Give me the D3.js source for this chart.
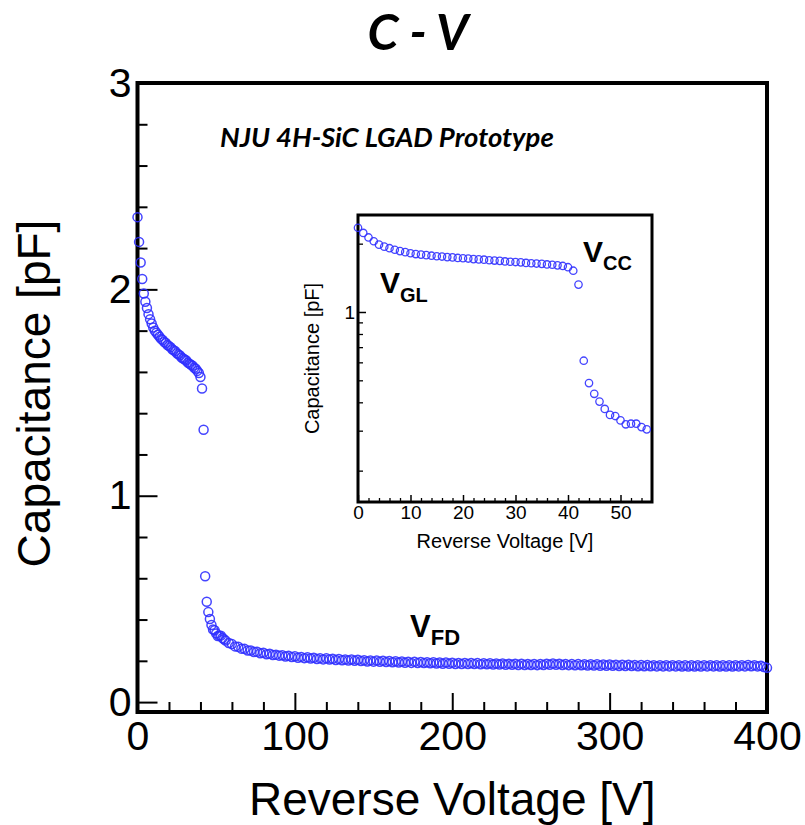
<!DOCTYPE html>
<html lang="en">
<head>
<meta charset="UTF-8">
<title>C - V</title>
<script src="https://d3js.org/d3.v7.min.js"></script>
<style>
  body { margin: 0; background: #fff; }
  svg { display: block; }
  .axis text { font-family: "Liberation Sans", Arial, sans-serif; fill: #000; }
  .axis line { stroke: #000; }
  .lbl { font-family: "Liberation Sans", Arial, sans-serif; fill: #000; }
  .sub { font-family: "Liberation Sans", Arial, sans-serif; font-weight: bold; fill: #000; }
  .cal { font-family: Lato, "Open Sans", sans-serif; font-weight: bold; font-style: italic; fill: #000; }
</style>
</head>
<body>
<div id="chart"></div>
<script>
// low voltage sweep, 1 V steps (shown in both plots)
const lowVolt = [0, 1, 2, 3, 4, 5, 6, 7, 8, 9, 10, 11, 12, 13, 14, 15, 16, 17, 18, 19,
  20, 21, 22, 23, 24, 25, 26, 27, 28, 29, 30, 31, 32, 33, 34, 35, 36, 37, 38, 39,
  40, 41, 42, 43, 44, 45, 46, 47, 48, 49, 50, 51, 52, 53, 54, 55];
const lowCap = [2.35, 2.23, 2.13, 2.05, 1.98, 1.94, 1.91, 1.88, 1.855, 1.835,
  1.815, 1.80, 1.79, 1.78, 1.77, 1.76, 1.755, 1.745, 1.74, 1.73,
  1.725, 1.72, 1.71, 1.705, 1.70, 1.69, 1.685, 1.68, 1.67, 1.665,
  1.66, 1.655, 1.645, 1.64, 1.635, 1.63, 1.62, 1.615, 1.605, 1.595,
  1.575, 1.52, 1.32, 0.61, 0.486, 0.436, 0.403, 0.374, 0.352, 0.348,
  0.333, 0.32, 0.322, 0.322, 0.311, 0.304];

// rest of the sweep, 2 V steps (main plot only)
const highVolt = [56, 58, 60, 62, 64, 66, 68, 70, 72, 74, 76, 78, 80, 82, 84, 86, 88, 90, 92, 94,
  96, 98, 100, 102, 104, 106, 108, 110, 112, 114, 116, 118, 120, 122, 124, 126, 128, 130, 132, 134,
  136, 138, 140, 142, 144, 146, 148, 150, 152, 154, 156, 158, 160, 162, 164, 166, 168, 170, 172, 174,
  176, 178, 180, 182, 184, 186, 188, 190, 192, 194, 196, 198, 200, 202, 204, 206, 208, 210, 212, 214,
  216, 218, 220, 222, 224, 226, 228, 230, 232, 234, 236, 238, 240, 242, 244, 246, 248, 250, 252, 254,
  256, 258, 260, 262, 264, 266, 268, 270, 272, 274, 276, 278, 280, 282, 284, 286, 288, 290, 292, 294,
  296, 298, 300, 302, 304, 306, 308, 310, 312, 314, 316, 318, 320, 322, 324, 326, 328, 330, 332, 334,
  336, 338, 340, 342, 344, 346, 348, 350, 352, 354, 356, 358, 360, 362, 364, 366, 368, 370, 372, 374,
  376, 378, 380, 382, 384, 386, 388, 390, 392, 394, 396, 398, 400];
const highCap = [
  0.298, 0.286, 0.281, 0.270, 0.268, 0.259, 0.258, 0.250, 0.250, 0.243,
  0.244, 0.237, 0.239, 0.232, 0.234, 0.228, 0.230, 0.225, 0.227, 0.221,
  0.224, 0.218, 0.222, 0.215, 0.219, 0.213, 0.217, 0.211, 0.215, 0.209,
  0.213, 0.207, 0.212, 0.206, 0.210, 0.204, 0.209, 0.203, 0.207, 0.201,
  0.206, 0.200, 0.205, 0.199, 0.203, 0.197, 0.202, 0.196, 0.201, 0.195,
  0.200, 0.194, 0.199, 0.193, 0.198, 0.192, 0.197, 0.191, 0.196, 0.190,
  0.195, 0.189, 0.194, 0.189, 0.193, 0.188, 0.193, 0.187, 0.192, 0.186,
  0.192, 0.186, 0.191, 0.185, 0.190, 0.185, 0.190, 0.184, 0.189, 0.184,
  0.189, 0.183, 0.188, 0.183, 0.188, 0.182, 0.187, 0.182, 0.187, 0.181,
  0.186, 0.181, 0.186, 0.180, 0.186, 0.180, 0.185, 0.180, 0.185, 0.179,
  0.185, 0.180, 0.186, 0.181, 0.187, 0.181, 0.186, 0.180, 0.185, 0.179,
  0.184, 0.178, 0.184, 0.178, 0.183, 0.177, 0.183, 0.177, 0.183, 0.176,
  0.182, 0.176, 0.182, 0.176, 0.181, 0.175, 0.181, 0.175, 0.181, 0.175,
  0.180, 0.174, 0.180, 0.174, 0.180, 0.174, 0.179, 0.173, 0.179, 0.173,
  0.179, 0.173, 0.179, 0.173, 0.178, 0.172, 0.178, 0.172, 0.178, 0.172,
  0.178, 0.172, 0.179, 0.173, 0.179, 0.173, 0.178, 0.172, 0.178, 0.172,
  0.178, 0.172, 0.178, 0.173, 0.179, 0.173, 0.180, 0.174, 0.179, 0.173,
  0.176, 0.170, 0.166];

// tick values
const mainXMajor = [0, 100, 200, 300, 400];
const mainXMinor = [20, 40, 60, 80, 120, 140, 160, 180, 220, 240, 260, 280, 320, 340, 360, 380];
const mainYMajor = [0, 1, 2, 3];
const mainYMinor = [0.2, 0.4, 0.6, 0.8, 1.2, 1.4, 1.6, 1.8, 2.2, 2.4, 2.6, 2.8];
const insetXMajor = [0, 10, 20, 30, 40, 50];
const insetXMinor = [2, 4, 6, 8, 12, 14, 16, 18, 22, 24, 26, 28, 32, 34, 36, 38, 42, 44, 46, 48, 52, 54];
const insetYMajor = [1];
const insetYMinor = [0.2, 0.3, 0.4, 0.5, 0.6, 0.7, 0.8, 0.9, 2];

const lowData = lowVolt.map((v, i) => [v, lowCap[i]]);
const mainData = lowData.concat(highVolt.map((v, i) => [v, highCap[i]]));

const W = 805, H = 825;
const svg = d3.select("#chart").append("svg").attr("width", W).attr("height", H);

// ---------- main plot ----------
const m = { left: 137.5, right: 767, top: 83, bottom: 712 };
const x = d3.scaleLinear().domain([0, 400]).range([m.left, m.right]);
const y = d3.scaleLinear().domain([-0.048, 3]).range([m.bottom, m.top]);

const gxMinor = svg.append("g").attr("class", "axis").attr("transform", `translate(0,${m.bottom})`)
  .call(d3.axisBottom(x).tickValues(mainXMinor).tickSize(-10).tickFormat(""));
const gx = svg.append("g").attr("class", "axis").attr("transform", `translate(0,${m.bottom})`)
  .call(d3.axisBottom(x).tickValues(mainXMajor).tickSize(-19).tickPadding(9).tickFormat(d3.format("d")));
gx.selectAll("text").attr("font-size", 41);
const gyMinor = svg.append("g").attr("class", "axis").attr("transform", `translate(${m.left},0)`)
  .call(d3.axisLeft(y).tickValues(mainYMinor).tickSize(-10).tickFormat(""));
const gy = svg.append("g").attr("class", "axis").attr("transform", `translate(${m.left},0)`)
  .call(d3.axisLeft(y).tickValues(mainYMajor).tickSize(-20).tickPadding(6).tickFormat(d3.format("d")));
gy.selectAll("text").attr("font-size", 41);
svg.selectAll(".axis .domain").remove();
svg.selectAll(".axis line").attr("stroke-width", 2);

svg.append("rect")
  .attr("x", m.left).attr("y", m.top)
  .attr("width", m.right - m.left).attr("height", m.bottom - m.top)
  .attr("fill", "none").attr("stroke", "#000").attr("stroke-width", 4);

svg.append("text").attr("class", "lbl")
  .attr("x", (m.left + m.right) / 2).attr("y", 815)
  .attr("text-anchor", "middle").attr("font-size", 46)
  .text("Reverse Voltage [V]");
svg.append("text").attr("class", "lbl")
  .attr("transform", `translate(50,${(m.top + m.bottom) / 2 - 4}) rotate(-90)`)
  .attr("text-anchor", "middle").attr("font-size", 46)
  .text("Capacitance [pF]");

svg.append("text").attr("class", "cal")
  .attr("x", 418).attr("y", 50).attr("text-anchor", "middle").attr("font-size", 50)
  .attr("font-weight", 900)
  .text("C - V");
svg.append("text").attr("class", "cal")
  .attr("x", 220).attr("y", 147).attr("font-size", 27.5)
  .text("NJU 4H-SiC LGAD Prototype");

svg.append("g")
  .selectAll("circle")
  .data(mainData)
  .join("circle")
  .attr("cx", d => x(d[0]))
  .attr("cy", d => y(d[1]))
  .attr("r", 4.5)
  .attr("fill", "none")
  .attr("stroke", "#3030ff")
  .attr("stroke-opacity", 0.9)
  .attr("stroke-width", 1.5);

// V_FD label
const fd = svg.append("text").attr("class", "sub").attr("x", 410).attr("y", 637);
fd.append("tspan").attr("font-size", 31).text("V");
fd.append("tspan").attr("font-size", 22).attr("dy", 8).text("FD");

// ---------- inset ----------
const n = { left: 358, right: 652, top: 215, bottom: 502 };
const ix = d3.scaleLinear().domain([0, 56]).range([n.left, n.right]);
const iy = d3.scaleLog().domain([0.1455, 2.675]).range([n.bottom, n.top]);

svg.append("rect")
  .attr("x", n.left).attr("y", n.top)
  .attr("width", n.right - n.left).attr("height", n.bottom - n.top)
  .attr("fill", "#fff");

const ixMinor = svg.append("g").attr("class", "axis").attr("transform", `translate(0,${n.bottom})`)
  .call(d3.axisBottom(ix).tickValues(insetXMinor).tickSize(-4).tickFormat(""));
const ixMajor = svg.append("g").attr("class", "axis").attr("transform", `translate(0,${n.bottom})`)
  .call(d3.axisBottom(ix).tickValues(insetXMajor).tickSize(-7).tickPadding(4).tickFormat(d3.format("d")));
ixMajor.selectAll("text").attr("font-size", 19).attr("fill", "#222");
const iyMinor = svg.append("g").attr("class", "axis").attr("transform", `translate(${n.left},0)`)
  .call(d3.axisLeft(iy).tickValues(insetYMinor).tickSize(-5).tickFormat(""));
const iyMajor = svg.append("g").attr("class", "axis").attr("transform", `translate(${n.left},0)`)
  .call(d3.axisLeft(iy).tickValues(insetYMajor).tickSize(-8).tickPadding(3).tickFormat(d3.format("d")));
iyMajor.selectAll("text").attr("font-size", 19).attr("fill", "#222");
svg.selectAll(".axis .domain").remove();
ixMinor.selectAll("line").attr("stroke-width", 1.3);
ixMajor.selectAll("line").attr("stroke-width", 1.5);
iyMinor.selectAll("line").attr("stroke-width", 1.3);
iyMajor.selectAll("line").attr("stroke-width", 1.5);

svg.append("rect")
  .attr("x", n.left).attr("y", n.top)
  .attr("width", n.right - n.left).attr("height", n.bottom - n.top)
  .attr("fill", "none").attr("stroke", "#000").attr("stroke-width", 3);

svg.append("text").attr("class", "lbl")
  .attr("x", (n.left + n.right) / 2).attr("y", 548)
  .attr("text-anchor", "middle").attr("font-size", 20).attr("fill", "#222")
  .text("Reverse Voltage [V]");
svg.append("text").attr("class", "lbl")
  .attr("transform", `translate(319,${(n.top + n.bottom) / 2}) rotate(-90)`)
  .attr("text-anchor", "middle").attr("font-size", 20).attr("fill", "#222")
  .text("Capacitance [pF]");

svg.append("g")
  .selectAll("circle")
  .data(lowData)
  .join("circle")
  .attr("cx", d => ix(d[0]))
  .attr("cy", d => iy(d[1]))
  .attr("r", 3.7)
  .attr("fill", "none")
  .attr("stroke", "#3030ff")
  .attr("stroke-opacity", 0.9)
  .attr("stroke-width", 1.3);

const gl = svg.append("text").attr("class", "sub").attr("x", 380).attr("y", 293);
gl.append("tspan").attr("font-size", 30).text("V");
gl.append("tspan").attr("font-size", 20).attr("dy", 9).text("GL");

const cc = svg.append("text").attr("class", "sub").attr("x", 583).attr("y", 262);
cc.append("tspan").attr("font-size", 30).text("V");
cc.append("tspan").attr("font-size", 20).attr("dy", 8).text("CC");
</script>
</body>
</html>
